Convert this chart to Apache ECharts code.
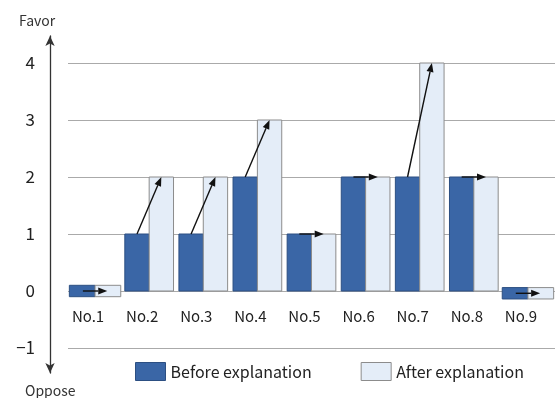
<!DOCTYPE html>
<html><head><meta charset="utf-8">
<script src="https://cdn.jsdelivr.net/npm/echarts@6/dist/echarts.min.js"></script>
<style>html,body{margin:0;padding:0;background:#fff}#c{width:555px;height:398px}</style>
</head><body><div id="c"></div>
<script>
const categories = ['No.1','No.2','No.3','No.4','No.5','No.6','No.7','No.8','No.9'];
const beforeValues = [0, 1, 1, 2, 1, 2, 2, 2, -0.04];
const afterValues  = [0, 2, 2, 3, 1, 2, 4, 2, -0.04];
const yTicks = [-1, 0, 1, 2, 3, 4];
const seriesNames = ['Before explanation', 'After explanation'];

const FONT = 'Noto Sans CJK JP, Noto Sans, sans-serif';
const BEFORE_FILL = '#3a66a6', BEFORE_BORDER = '#2c4f82';
const AFTER_FILL = '#e4edf8', AFTER_BORDER = '#8c8c8c';
const GRID_TOP = 63, GRID_BOTTOM = 50, H = 398;
const yMin = yTicks[0], yMax = yTicks[yTicks.length - 1];
const zeroOffset = -(0 - yMin) / (yMax - yMin) * (H - GRID_TOP - GRID_BOTTOM);

function barRender(side, fill, stroke) {
  return function (params, api) {
    const ci = api.value(0), v = api.value(1);
    const band = api.size([1, 0])[0];
    const center = api.coord([ci, 0])[0];
    let lo, hi, bw = band * 0.45;
    if (Math.abs(v) < 0.1) { lo = v - 0.1; hi = v + 0.1; bw = band * 0.475; }
    else { lo = Math.min(0, v); hi = Math.max(0, v); }
    const pTop = api.coord([ci, hi]), pBot = api.coord([ci, lo]);
    const x = side === 0 ? center - bw : center;
    return {
      type: 'rect',
      shape: { x: x, y: pTop[1], width: bw, height: pBot[1] - pTop[1] },
      style: { fill: fill, stroke: stroke, lineWidth: 1 }
    };
  };
}

function arrowRender(params, api) {
  const ci = api.value(0), b = api.value(1), a = api.value(2);
  const band = api.size([1, 0])[0];
  const bw = band * 0.45;
  const c = api.coord([ci, 0])[0];
  const s = [c - bw / 2, api.coord([ci, b])[1]];
  const e = [c + bw / 2, api.coord([ci, a])[1]];
  const dx = e[0] - s[0], dy = e[1] - s[1];
  const len = Math.sqrt(dx * dx + dy * dy);
  const ux = dx / len, uy = dy / len;
  const hl = 9, hw = 3.5;
  const bx = e[0] - ux * hl, by = e[1] - uy * hl;
  return {
    type: 'group',
    children: [
      { type: 'line', shape: { x1: s[0], y1: s[1], x2: bx, y2: by },
        style: { stroke: '#111', lineWidth: 1.4 } },
      { type: 'polygon', shape: { points: [[e[0], e[1]], [bx - uy * hw, by + ux * hw], [bx + uy * hw, by - ux * hw]] },
        style: { fill: '#111' } }
    ]
  };
}

const chart = echarts.init(document.getElementById('c'));
chart.setOption({
  animation: false,
  textStyle: { fontFamily: FONT },
  grid: [
    { left: 68, width: 498, top: GRID_TOP, bottom: GRID_BOTTOM },
    { left: 50, width: 5, top: 36, bottom: 25 }
  ],
  legend: {
    left: 130, top: 357, itemWidth: 30, itemHeight: 18, itemGap: 49,
    textStyle: { fontSize: 16, color: '#222', fontFamily: FONT },
    data: [
      { name: seriesNames[0], icon: 'rect', itemStyle: { color: BEFORE_FILL, borderColor: BEFORE_BORDER, borderWidth: 1 } },
      { name: seriesNames[1], icon: 'rect', itemStyle: { color: AFTER_FILL, borderColor: AFTER_BORDER, borderWidth: 1 } }
    ]
  },
  graphic: [
    { type: 'text', left: 19, top: 14, style: { text: 'Favor', fontSize: 14, fill: '#333', fontFamily: FONT } },
    { type: 'text', left: 25, top: 384, style: { text: 'Oppose', fontSize: 14, fill: '#333', fontFamily: FONT } }
  ],
  xAxis: [
    { type: 'category', gridIndex: 0, data: categories, offset: zeroOffset,
      axisLine: { show: false, onZero: false },
      axisTick: { show: false },
      axisLabel: { margin: 18, fontSize: 15, color: '#222', padding: [0, 14, 0, 0] } },
    { type: 'value', gridIndex: 1, show: false }
  ],
  yAxis: [
    { type: 'value', gridIndex: 0, min: yMin, max: yMax, interval: 1,
      axisLine: { show: false }, axisTick: { show: false },
      splitLine: { lineStyle: { color: '#aaa', width: 1 } },
      axisLabel: { margin: 33, fontSize: 17, color: '#222',
        formatter: v => (v < 0 ? '\u2212' + (-v) : String(v)) } },
    { type: 'value', gridIndex: 1, min: 0, max: 1,
      axisLine: { show: true, symbol: ['arrow', 'arrow'], symbolSize: [7, 10],
        lineStyle: { color: '#333', width: 1.3 } },
      axisTick: { show: false }, axisLabel: { show: false }, splitLine: { show: false } }
  ],
  series: [
    { name: seriesNames[0], type: 'custom', xAxisIndex: 0, yAxisIndex: 0,
      itemStyle: { color: BEFORE_FILL },
      renderItem: barRender(0, BEFORE_FILL, BEFORE_BORDER),
      data: beforeValues.map((v, i) => [i, v]) },
    { name: seriesNames[1], type: 'custom', xAxisIndex: 0, yAxisIndex: 0,
      itemStyle: { color: AFTER_FILL },
      renderItem: barRender(1, AFTER_FILL, AFTER_BORDER),
      data: afterValues.map((v, i) => [i, v]) },
    { name: 'arrows', type: 'custom', xAxisIndex: 0, yAxisIndex: 0, z: 10,
      renderItem: arrowRender,
      data: beforeValues.map((v, i) => [i, v, afterValues[i]]) }
  ]
});
</script></body></html>
